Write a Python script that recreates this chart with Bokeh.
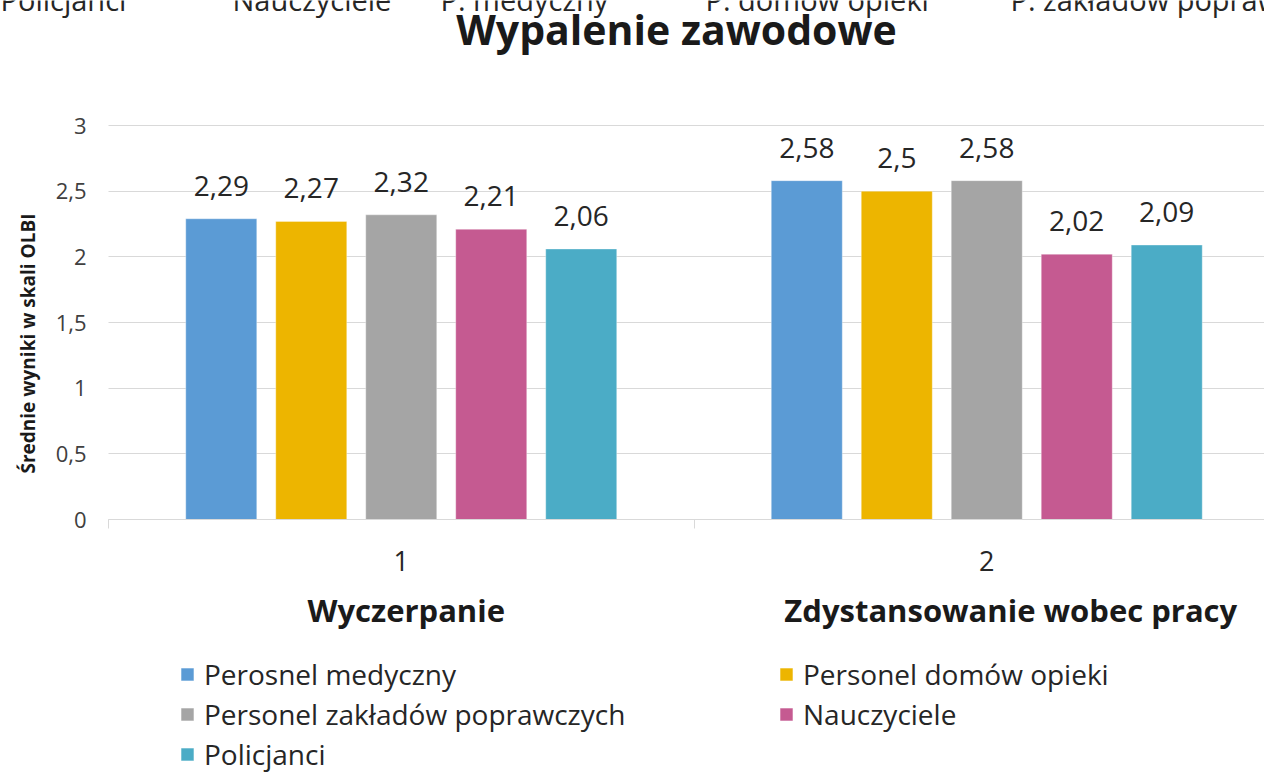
import math
from bokeh.plotting import figure
from bokeh.models import (ColumnDataSource, Range1d, FixedTicker, LabelSet, Label,
                          Legend, LegendItem)
from bokeh.transform import dodge
from bokeh.core.properties import value
from bokeh.embed import file_html
from bokeh.resources import INLINE

# ---- data ----
groups = ["Wyczerpanie", "Zdystansowanie wobec pracy"]
group_ticks = ["1", "2"]
series_names = ["Perosnel medyczny", "Personel domów opieki",
                "Personel zakładów poprawczych", "Nauczyciele", "Policjanci"]
medyczny = [2.29, 2.58]
domow_opieki = [2.27, 2.50]
zakladow = [2.32, 2.58]
nauczyciele = [2.21, 2.02]
policjanci = [2.06, 2.09]
series_values = [medyczny, domow_opieki, zakladow, nauczyciele, policjanci]
colors = ["#5B9BD5", "#EDB500", "#A5A5A5", "#C55A91", "#4BACC6"]
y_ticks = [0, 0.5, 1, 1.5, 2, 2.5, 3]
top_cut_labels = ["Policjanci", "Nauczyciele", "P. medyczny", "P. domów opieki",
                  "P. zakładów poprawczych"]

FONT = "Open Sans"
W, H = 1264, 772
# layout: plot area origin (x=0, y=0) at pixel (108, 519); scale in px per unit
X0, Y0 = 108, 519
PX_X, PX_Y = 585.5, 131.33

p = figure(width=W, height=H, output_backend="svg", toolbar_location=None,
           x_range=Range1d(-X0 / PX_X, (W - X0) / PX_X),
           y_range=Range1d(-(H - Y0) / PX_Y, Y0 / PX_Y),
           min_border=0)
p.outline_line_color = None
p.background_fill_color = "white"
p.border_fill_color = "white"
p.xgrid.visible = False
p.ygrid.visible = False

# y axis (its inward ticks serve as the horizontal grid lines)
ya = p.yaxis[0]
ya.fixed_location = 0
ya.bounds = (0, 3)
ya.level = "underlay"
ya.ticker = FixedTicker(ticks=y_ticks, minor_ticks=[])
ya.major_label_overrides = {t: (str(t).replace(".", ",") if t % 1 else str(int(t))) for t in y_ticks}
ya.axis_line_color = None
ya.major_tick_line_color = "#D9D9D9"
ya.major_tick_line_width = 1
ya.major_tick_out = 0
ya.major_tick_in = W
ya.minor_tick_line_color = None
ya.major_label_standoff = 22
ya.major_label_text_font = FONT
ya.major_label_text_font_size = "22px"
ya.major_label_text_color = "#404040"

# y axis title
p.add_layout(Label(x=27, y=H - 322 - 21, x_units="screen", y_units="screen",
                   angle=math.pi / 2, text="Średnie wyniki w skali OLBI",
                   text_align="center", text_baseline="middle", text_font=FONT,
                   text_font_size="19px", text_font_style="bold",
                   text_color="#1a1a1a"))

# x axis
xa = p.xaxis[0]
xa.fixed_location = 0
xa.bounds = (0, (W - X0) / PX_X)
xa.ticker = FixedTicker(ticks=[0.5, 1.5], minor_ticks=[0, 1, 2])
xa.major_label_overrides = {0.5: group_ticks[0], 1.5: group_ticks[1]}
xa.axis_line_color = "#D9D9D9"
xa.axis_line_width = 1
xa.major_tick_line_color = None
xa.major_tick_out = 0
xa.major_tick_in = 0
xa.minor_tick_line_color = "#D9D9D9"
xa.minor_tick_out = 9
xa.minor_tick_in = 0
xa.major_label_standoff = 22
xa.major_label_text_font = FONT
xa.major_label_text_font_size = "27px"
xa.major_label_text_color = "#262626"

# bars
offsets = [(-2 + i) * 0.1537 for i in range(5)]
centers = [0.5, 1.5]
bar_renderers = []
for name, vals, col, off in zip(series_names, series_values, colors, offsets):
    src = ColumnDataSource(dict(cat=centers, val=vals,
                                lab=[str(v).replace(".", ",") for v in vals]))
    r = p.vbar(x=dodge("cat", off, range=p.x_range), top="val", width=0.1213,
               source=src, fill_color=col, line_color="white", line_alpha=0.35,
               line_width=1)
    bar_renderers.append(r)
    ls = LabelSet(x=dodge("cat", off, range=p.x_range), y="val", text="lab",
                  source=src, text_align="center", text_baseline="alphabetic",
                  y_offset=23, text_font=value(FONT), text_font_size="28px",
                  text_color="#262626")
    p.add_layout(ls)

# title
p.add_layout(Label(x=676, y=H - 43 + 15, x_units="screen", y_units="screen",
                   text="Wypalenie zawodowe", text_align="center",
                   text_baseline="alphabetic", text_font=FONT,
                   text_font_size="41px", text_font_style="bold",
                   text_color="#1a1a1a"))

# group titles under the category axis
for g, c, xo in zip(groups, centers, [5, 24]):
    p.add_layout(Label(x=c, y=H - 621 + 12, x_units="data", y_units="screen", x_offset=xo,
                       text=g, text_align="center", text_baseline="alphabetic",
                       text_font=FONT, text_font_size="31px",
                       text_font_style="bold", text_color="#1a1a1a"))

# clipped category labels of a neighbouring chart at the very top
for t, xs in zip(top_cut_labels, [0, 232, 440, 705, 1010]):
    p.add_layout(Label(x=xs, y=H - 7 + 8, x_units="screen", y_units="screen",
                       text=t, text_align="left", text_baseline="alphabetic",
                       text_font=FONT, text_font_size="29px",
                       text_color="#262626"))

# legend (two columns, row-major)
items = [LegendItem(label=n, renderers=[r]) for n, r in zip(series_names, bar_renderers)]
lg = Legend(items=items, location=(179, -1), orientation="horizontal", ncols=2,
            glyph_width=16, glyph_height=16, label_standoff=9,
            padding=0, margin=0, spacing=2, label_height=20, label_width=572,
            label_text_font=FONT, label_text_font_size="28px",
            label_text_color="#262626", border_line_color=None,
            background_fill_alpha=0)
p.add_layout(lg, "center")

open("out.html", "w").write(file_html(p, INLINE))
